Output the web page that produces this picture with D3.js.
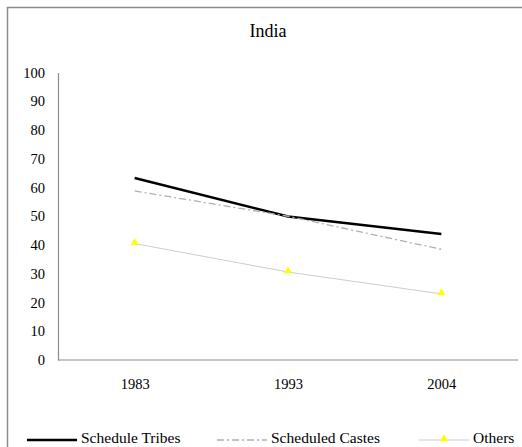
<!DOCTYPE html>
<html>
<head>
<meta charset="utf-8">
<script src="https://cdn.jsdelivr.net/npm/d3@7"></script>
<style>
  body { margin: 0; background: #fff; }
  svg text { font-family: "Liberation Serif", "Times New Roman", serif !important; fill: #000; }
</style>
</head>
<body>
<div id="chart"></div>
<script>
const years = ["1983", "1993", "2004"];
const scheduleTribes = [63.3, 49.9, 43.8];
const scheduledCastes = [58.8, 50, 38.5];
const others = [40.5, 30.6, 23];
const yTicks = [0, 10, 20, 30, 40, 50, 60, 70, 80, 90, 100];

const width = 522, height = 447;

const svg = d3.select("#chart")
  .append("svg")
  .attr("width", width)
  .attr("height", height);

// outer frame (only top and left edges show in the crop)
svg.append("rect")
  .attr("x", 7.5).attr("y", 7.5)
  .attr("width", 530).attr("height", 460)
  .attr("fill", "none")
  .attr("stroke", "#8c8c8c")
  .attr("stroke-width", 1.5);

const x = d3.scalePoint()
  .domain(years)
  .range([58, 518])
  .padding(0.5);

const y = d3.scaleLinear()
  .domain([0, 100])
  .range([360, 72.5]);

svg.append("text")
  .attr("x", 268).attr("y", 37)
  .attr("text-anchor", "middle")
  .style("font-size", "18px")
  .text("India");

// y axis
const yAxis = svg.append("g")
  .attr("transform", "translate(58,0)")
  .call(d3.axisLeft(y).tickValues(yTicks).tickSize(0).tickPadding(13));
yAxis.attr("font-family", null);
yAxis.select(".domain").attr("stroke", "#8c8c8c").attr("stroke-width", 1.2);
yAxis.selectAll("text").style("font-size", "14.5px");

// x axis
const xAxis = svg.append("g")
  .attr("transform", "translate(0,360)")
  .call(d3.axisBottom(x).tickSize(0).tickPadding(19));
xAxis.attr("font-family", null);
xAxis.select(".domain")
  .attr("d", "M58,0H518")
  .attr("stroke", "#8c8c8c").attr("stroke-width", 1.2);
xAxis.selectAll("text").style("font-size", "14.5px");

const series = [
  { name: "Schedule Tribes", values: scheduleTribes, color: "#000", width: 2.5, dash: null, marker: false },
  { name: "Scheduled Castes", values: scheduledCastes, color: "#b0b0b0", width: 1.3, dash: "7,3,2,3", marker: false },
  { name: "Others", values: others, color: "#cccccc", width: 1, dash: null, marker: true }
];

const line = d3.line()
  .x((d, i) => x(years[i]))
  .y(d => y(d));

const tri = d3.symbol().type(d3.symbolTriangle).size(28);

series.forEach(s => {
  svg.append("path")
    .datum(s.values)
    .attr("d", line)
    .attr("fill", "none")
    .attr("stroke", s.color)
    .attr("stroke-width", s.width)
    .attr("stroke-dasharray", s.dash);
  if (s.marker) {
    svg.append("g")
      .selectAll("path")
      .data(s.values)
      .join("path")
      .attr("d", tri)
      .attr("transform", (d, i) => `translate(${x(years[i])},${y(d) - 1})`)
      .attr("fill", "#ffff00");
  }
});

// legend
const legendX = [27, 217, 419];
const legend = svg.append("g");
series.forEach((s, i) => {
  const g = legend.append("g").attr("transform", `translate(${legendX[i]},440)`);
  g.append("line")
    .attr("x1", 0).attr("x2", 50)
    .attr("stroke", s.color)
    .attr("stroke-width", s.width)
    .attr("stroke-dasharray", s.dash);
  if (s.marker) {
    g.append("path").attr("d", tri).attr("transform", "translate(25,-1)").attr("fill", "#ffff00");
  }
  g.append("text")
    .attr("x", 54).attr("y", 3)
    .style("font-size", "15.5px")
    .text(s.name);
});
</script>
</body>
</html>
